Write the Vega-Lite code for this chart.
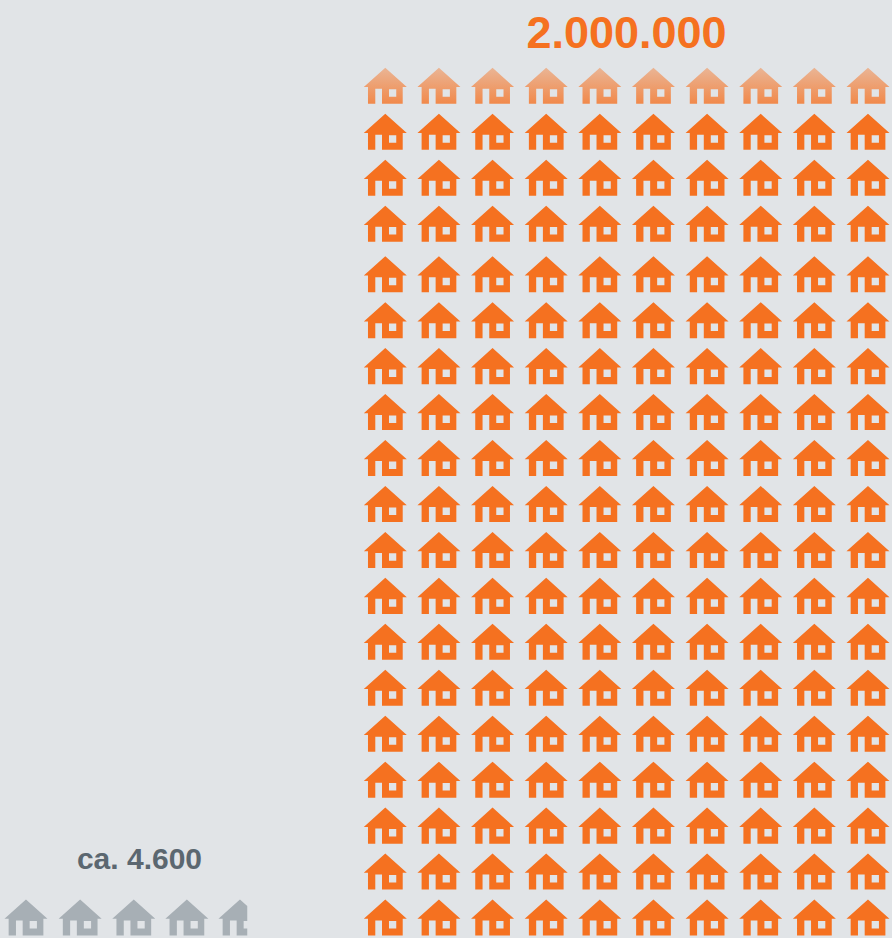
{"$schema":"https://vega.github.io/schema/vega-lite/v6.json","width":892,"height":938,"padding":0,"autosize":{"type":"fit","contains":"padding"},"background":"#E1E4E7","config":{"view":{"stroke":null}},"datasets":{"houses":[
{"g":"fade","col":0,"row":0},{"g":"fade","col":1,"row":0},{"g":"fade","col":2,"row":0},{"g":"fade","col":3,"row":0},{"g":"fade","col":4,"row":0},{"g":"fade","col":5,"row":0},{"g":"fade","col":6,"row":0},{"g":"fade","col":7,"row":0},{"g":"fade","col":8,"row":0},{"g":"fade","col":9,"row":0},
{"g":"o","col":0,"row":1},{"g":"o","col":1,"row":1},{"g":"o","col":2,"row":1},{"g":"o","col":3,"row":1},{"g":"o","col":4,"row":1},{"g":"o","col":5,"row":1},{"g":"o","col":6,"row":1},{"g":"o","col":7,"row":1},{"g":"o","col":8,"row":1},{"g":"o","col":9,"row":1},
{"g":"o","col":0,"row":2},{"g":"o","col":1,"row":2},{"g":"o","col":2,"row":2},{"g":"o","col":3,"row":2},{"g":"o","col":4,"row":2},{"g":"o","col":5,"row":2},{"g":"o","col":6,"row":2},{"g":"o","col":7,"row":2},{"g":"o","col":8,"row":2},{"g":"o","col":9,"row":2},
{"g":"o","col":0,"row":3},{"g":"o","col":1,"row":3},{"g":"o","col":2,"row":3},{"g":"o","col":3,"row":3},{"g":"o","col":4,"row":3},{"g":"o","col":5,"row":3},{"g":"o","col":6,"row":3},{"g":"o","col":7,"row":3},{"g":"o","col":8,"row":3},{"g":"o","col":9,"row":3},
{"g":"o","col":0,"row":4.1},{"g":"o","col":1,"row":4.1},{"g":"o","col":2,"row":4.1},{"g":"o","col":3,"row":4.1},{"g":"o","col":4,"row":4.1},{"g":"o","col":5,"row":4.1},{"g":"o","col":6,"row":4.1},{"g":"o","col":7,"row":4.1},{"g":"o","col":8,"row":4.1},{"g":"o","col":9,"row":4.1},
{"g":"o","col":0,"row":5.1},{"g":"o","col":1,"row":5.1},{"g":"o","col":2,"row":5.1},{"g":"o","col":3,"row":5.1},{"g":"o","col":4,"row":5.1},{"g":"o","col":5,"row":5.1},{"g":"o","col":6,"row":5.1},{"g":"o","col":7,"row":5.1},{"g":"o","col":8,"row":5.1},{"g":"o","col":9,"row":5.1},
{"g":"o","col":0,"row":6.1},{"g":"o","col":1,"row":6.1},{"g":"o","col":2,"row":6.1},{"g":"o","col":3,"row":6.1},{"g":"o","col":4,"row":6.1},{"g":"o","col":5,"row":6.1},{"g":"o","col":6,"row":6.1},{"g":"o","col":7,"row":6.1},{"g":"o","col":8,"row":6.1},{"g":"o","col":9,"row":6.1},
{"g":"o","col":0,"row":7.1},{"g":"o","col":1,"row":7.1},{"g":"o","col":2,"row":7.1},{"g":"o","col":3,"row":7.1},{"g":"o","col":4,"row":7.1},{"g":"o","col":5,"row":7.1},{"g":"o","col":6,"row":7.1},{"g":"o","col":7,"row":7.1},{"g":"o","col":8,"row":7.1},{"g":"o","col":9,"row":7.1},
{"g":"o","col":0,"row":8.1},{"g":"o","col":1,"row":8.1},{"g":"o","col":2,"row":8.1},{"g":"o","col":3,"row":8.1},{"g":"o","col":4,"row":8.1},{"g":"o","col":5,"row":8.1},{"g":"o","col":6,"row":8.1},{"g":"o","col":7,"row":8.1},{"g":"o","col":8,"row":8.1},{"g":"o","col":9,"row":8.1},
{"g":"o","col":0,"row":9.1},{"g":"o","col":1,"row":9.1},{"g":"o","col":2,"row":9.1},{"g":"o","col":3,"row":9.1},{"g":"o","col":4,"row":9.1},{"g":"o","col":5,"row":9.1},{"g":"o","col":6,"row":9.1},{"g":"o","col":7,"row":9.1},{"g":"o","col":8,"row":9.1},{"g":"o","col":9,"row":9.1},
{"g":"o","col":0,"row":10.1},{"g":"o","col":1,"row":10.1},{"g":"o","col":2,"row":10.1},{"g":"o","col":3,"row":10.1},{"g":"o","col":4,"row":10.1},{"g":"o","col":5,"row":10.1},{"g":"o","col":6,"row":10.1},{"g":"o","col":7,"row":10.1},{"g":"o","col":8,"row":10.1},{"g":"o","col":9,"row":10.1},
{"g":"o","col":0,"row":11.1},{"g":"o","col":1,"row":11.1},{"g":"o","col":2,"row":11.1},{"g":"o","col":3,"row":11.1},{"g":"o","col":4,"row":11.1},{"g":"o","col":5,"row":11.1},{"g":"o","col":6,"row":11.1},{"g":"o","col":7,"row":11.1},{"g":"o","col":8,"row":11.1},{"g":"o","col":9,"row":11.1},
{"g":"o","col":0,"row":12.1},{"g":"o","col":1,"row":12.1},{"g":"o","col":2,"row":12.1},{"g":"o","col":3,"row":12.1},{"g":"o","col":4,"row":12.1},{"g":"o","col":5,"row":12.1},{"g":"o","col":6,"row":12.1},{"g":"o","col":7,"row":12.1},{"g":"o","col":8,"row":12.1},{"g":"o","col":9,"row":12.1},
{"g":"o","col":0,"row":13.1},{"g":"o","col":1,"row":13.1},{"g":"o","col":2,"row":13.1},{"g":"o","col":3,"row":13.1},{"g":"o","col":4,"row":13.1},{"g":"o","col":5,"row":13.1},{"g":"o","col":6,"row":13.1},{"g":"o","col":7,"row":13.1},{"g":"o","col":8,"row":13.1},{"g":"o","col":9,"row":13.1},
{"g":"o","col":0,"row":14.1},{"g":"o","col":1,"row":14.1},{"g":"o","col":2,"row":14.1},{"g":"o","col":3,"row":14.1},{"g":"o","col":4,"row":14.1},{"g":"o","col":5,"row":14.1},{"g":"o","col":6,"row":14.1},{"g":"o","col":7,"row":14.1},{"g":"o","col":8,"row":14.1},{"g":"o","col":9,"row":14.1},
{"g":"o","col":0,"row":15.1},{"g":"o","col":1,"row":15.1},{"g":"o","col":2,"row":15.1},{"g":"o","col":3,"row":15.1},{"g":"o","col":4,"row":15.1},{"g":"o","col":5,"row":15.1},{"g":"o","col":6,"row":15.1},{"g":"o","col":7,"row":15.1},{"g":"o","col":8,"row":15.1},{"g":"o","col":9,"row":15.1},
{"g":"o","col":0,"row":16.1},{"g":"o","col":1,"row":16.1},{"g":"o","col":2,"row":16.1},{"g":"o","col":3,"row":16.1},{"g":"o","col":4,"row":16.1},{"g":"o","col":5,"row":16.1},{"g":"o","col":6,"row":16.1},{"g":"o","col":7,"row":16.1},{"g":"o","col":8,"row":16.1},{"g":"o","col":9,"row":16.1},
{"g":"o","col":0,"row":17.1},{"g":"o","col":1,"row":17.1},{"g":"o","col":2,"row":17.1},{"g":"o","col":3,"row":17.1},{"g":"o","col":4,"row":17.1},{"g":"o","col":5,"row":17.1},{"g":"o","col":6,"row":17.1},{"g":"o","col":7,"row":17.1},{"g":"o","col":8,"row":17.1},{"g":"o","col":9,"row":17.1},
{"g":"o","col":0,"row":18.1},{"g":"o","col":1,"row":18.1},{"g":"o","col":2,"row":18.1},{"g":"o","col":3,"row":18.1},{"g":"o","col":4,"row":18.1},{"g":"o","col":5,"row":18.1},{"g":"o","col":6,"row":18.1},{"g":"o","col":7,"row":18.1},{"g":"o","col":8,"row":18.1},{"g":"o","col":9,"row":18.1},
{"g":"grey","col":-6.7,"row":18.1},{"g":"grey","col":-5.69,"row":18.1},{"g":"grey","col":-4.69,"row":18.1},{"g":"grey","col":-3.7,"row":18.1},{"g":"part","col":-2.71,"row":18.1}
],"labels":[{"label":"2.000.000","col":4.498,"row":-0.822,"g":"o"},{"label":"ca. 4.600","col":-4.583,"row":17.045,"g":"grey"}]},
"layer":[
{"data":{"name":"houses"},"transform":[{"filter":"datum.g==='o'"}],"mark":{"type":"point","filled":true,"opacity":1,"size":1849,"color":"#F57120","shape":"M0,-.837 L1,.06 L.81,.06 L.81,.84 L-.153,.84 L-.153,.14 L-.465,.14 L-.465,.84 L-.805,.84 L-.805,.06 L-1,.06 Z M.172,.16 L.172,.51 L.51,.51 L.51,.16 Z"},"encoding":{"x":{"field":"col","type":"quantitative","scale":{"domain":[-7.184,9.448],"nice":false,"zero":false},"axis":null},"y":{"field":"row","type":"quantitative","scale":{"domain":[18.546,-1.867],"nice":false,"zero":false},"axis":null}}},
{"data":{"name":"houses"},"transform":[{"filter":"datum.g==='fade'"}],"mark":{"type":"point","filled":true,"opacity":1,"size":1849,"color":{"gradient":"linear","x1":0,"y1":0,"x2":0,"y2":1,"stops":[{"offset":0,"color":"#EAB595"},{"offset":1,"color":"#F1894B"}]},"shape":"M0,-.837 L1,.06 L.81,.06 L.81,.84 L-.153,.84 L-.153,.14 L-.465,.14 L-.465,.84 L-.805,.84 L-.805,.06 L-1,.06 Z M.172,.16 L.172,.51 L.51,.51 L.51,.16 Z"},"encoding":{"x":{"field":"col","type":"quantitative"},"y":{"field":"row","type":"quantitative"}}},
{"data":{"name":"houses"},"transform":[{"filter":"datum.g==='grey'"}],"mark":{"type":"point","filled":true,"opacity":1,"size":1849,"color":"#A7AFB5","shape":"M0,-.837 L1,.06 L.81,.06 L.81,.84 L-.153,.84 L-.153,.14 L-.465,.14 L-.465,.84 L-.805,.84 L-.805,.06 L-1,.06 Z M.172,.16 L.172,.51 L.51,.51 L.51,.16 Z"},"encoding":{"x":{"field":"col","type":"quantitative"},"y":{"field":"row","type":"quantitative"}}},
{"data":{"name":"houses"},"transform":[{"filter":"datum.g==='part'"}],"mark":{"type":"point","filled":true,"opacity":1,"size":1849,"color":"#A7AFB5","shape":"M0,-.837 L.34,-.532 L.34,.16 L.172,.16 L.172,.51 L.34,.51 L.34,.84 L-.153,.84 L-.153,.14 L-.465,.14 L-.465,.84 L-.805,.84 L-.805,.06 L-1,.06 Z"},"encoding":{"x":{"field":"col","type":"quantitative"},"y":{"field":"row","type":"quantitative"}}},
{"data":{"name":"labels"},"transform":[{"filter":"datum.g==='o'"}],"mark":{"type":"text","font":"Liberation Sans","fontWeight":"bold","fontSize":45,"align":"center","baseline":"alphabetic","color":"#F57120"},"encoding":{"x":{"field":"col","type":"quantitative"},"y":{"field":"row","type":"quantitative"},"text":{"field":"label"}}},
{"data":{"name":"labels"},"transform":[{"filter":"datum.g==='grey'"}],"mark":{"type":"text","font":"Liberation Sans","fontWeight":"bold","fontSize":30,"align":"center","baseline":"alphabetic","color":"#5B6770"},"encoding":{"x":{"field":"col","type":"quantitative"},"y":{"field":"row","type":"quantitative"},"text":{"field":"label"}}}
]}
